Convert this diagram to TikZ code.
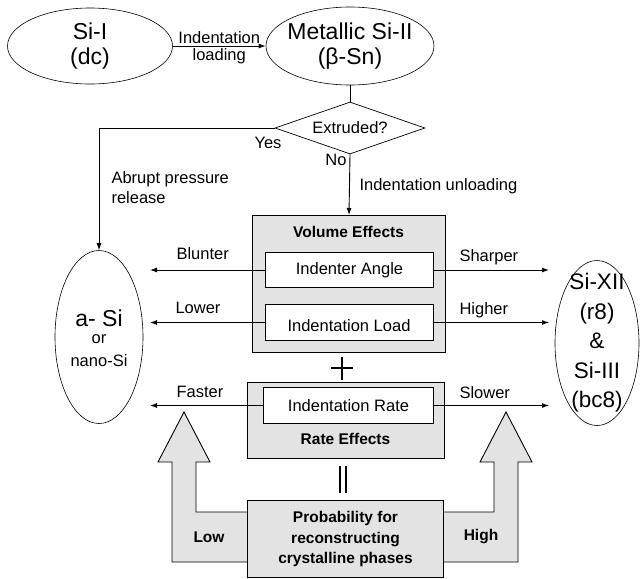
\documentclass[tikz,border=0pt]{standalone}
\usepackage{fontspec}
\setmainfont{Liberation Sans}
\usetikzlibrary{shapes.geometric,arrows.meta}
\begin{document}
\begin{tikzpicture}[x=1pt,y=-1pt,
  ell/.style={ellipse,draw,line width=0.6pt,inner sep=0pt},
  big/.style={font=\fontsize{23}{26}\selectfont,inner sep=0pt},
  mid/.style={font=\fontsize{16.5}{20}\selectfont},
  bmid/.style={font=\bfseries\fontsize{15.5}{20.5}\selectfont},
  outerbox/.style={draw,line width=1pt,fill=black!11,inner sep=0pt,anchor=north west},
  innerbox/.style={draw,line width=1pt,fill=white,inner sep=0pt,anchor=north west,font=\fontsize{16.5}{20}\selectfont},
  bigarrow/.style={draw,line width=0.9pt,fill=black!11},
  arr/.style={line width=0.9pt,-{Latex[length=7pt,width=5pt]}},
  ln/.style={line width=0.7pt}]
\useasboundingbox (0,0) rectangle (641,579);

% top ellipses
\node[ell,minimum width=165,minimum height=76] (si1) at (90,46) {};
\node[big,align=center,font=\fontsize{23}{25}\selectfont] (si1t) at (si1.center) {Si-I\\(dc)};
\node[ell,minimum width=168,minimum height=78] (si2) at (350,46) {};
\node[big,align=center,font=\fontsize{23}{25}\selectfont] (si2t) at (si2.center) {Metallic Si-II\\(β-Sn)};
\draw[arr] (si1.east) -- (si2.west)
  node[midway,above,mid,inner sep=2pt] (lab1) {Indentation}
  node[midway,below,mid,inner sep=2pt] (lab2) {loading};

% decision
\node[diamond,draw,ln,aspect=2.9,minimum width=150,minimum height=52,inner sep=0pt,mid] (dia) at (350,128) {Extruded?};
\draw[ln] (si2.south) -- (dia.north);

% side ellipses
\node[ell,minimum width=88,minimum height=173] (asi) at (99,337) {};
\node[font=\fontsize{23}{25}\selectfont] (asit) at (99,318) {a- Si};
\node[mid] (ort) at (99,339) {or};
\node[mid] (nanot) at (99,361) {nano-Si};
\node[ell,minimum width=84,minimum height=165] (sixii) at (597,343) {};
\node[big,align=center,font=\fontsize{22.5}{29.5}\selectfont] (sixiit) at (sixii.center) {Si-XII\\(r8)\\\&\\Si-III\\(bc8)};

% yes branch
\draw[arr] (dia.west) -| (asi.north);
\node[mid] (yes) at (268,143) {Yes};
\node[mid,align=left,anchor=west] (abrupt) at (108,188) {Abrupt pressure\\release};

% volume effects box
\node[outerbox,minimum width=193,minimum height=137] (vol) at (252,215) {};
\node[bmid] (volt) at (348.5,232) {Volume Effects};
\node[innerbox,minimum width=168,minimum height=35] (ia) at (265,252) {Indenter Angle};
\node[innerbox,minimum width=168,minimum height=36] (il) at (265,304) {};
\node[mid] (ilt) at (349,326) {Indentation Load};

% no branch
\draw[arr] (dia.south) -- (vol.north);
\node[mid] (no) at (336,160) {No};
\node[mid,anchor=west] (unl) at (356,186) {Indentation unloading};

% rate effects box
\node[outerbox,minimum width=197,minimum height=76] (rate) at (247,382) {};
\node[innerbox,minimum width=170,minimum height=36] (ir) at (263,387) {Indentation Rate};
\node[bmid] (ratet) at (345.5,439) {Rate Effects};

% plus and equals
\draw[line width=1.6pt] (331,368) -- (353,368);
\draw[line width=1.6pt] (342,357) -- (342,380);
\draw[line width=1.5pt] (340,466) -- (340,493);
\draw[line width=1.5pt] (346,466) -- (346,493);

% big hollow arrows
\draw[bigarrow] (247,512) -- (196,512) -- (196,462) -- (210,462) -- (184,412)
  -- (158,462) -- (172,462) -- (172,562) -- (247,562);
\draw[bigarrow] (443,512) -- (494,512) -- (494,462) -- (480,462) -- (506,412)
  -- (532,462) -- (518,462) -- (518,562) -- (443,562);
\node[bmid] (low) at (209,537) {Low};
\node[bmid] (high) at (481,537) {High};

% probability box
\node[outerbox,minimum width=196,minimum height=77] (prob) at (247,500) {};
\node[bmid,align=center] (probt) at (prob.center) {Probability for\\reconstructing\\crystalline phases};

% left and right arrows
\path (ia.west) ++(-115,0) coordinate (la1);
\path (il.west) ++(-115,0) coordinate (la2);
\path (ir.west) ++(-113,0) coordinate (la3);
\path (ia.east) ++(115,0) coordinate (ra1);
\path (il.east) ++(115,0) coordinate (ra2);
\path (ir.east) ++(115,0) coordinate (ra3);
\draw[arr] (ia.west) -- (la1);
\draw[arr] (il.west) -- (la2);
\draw[arr] (ir.west) -- (la3);
\draw[arr] (ia.east) -- (ra1);
\draw[arr] (il.east) -- (ra2);
\draw[arr] (ir.east) -- (ra3);
\node[mid,anchor=base west] (blunter) at (173,259) {Blunter};
\node[mid,anchor=base west] (lower) at (172,313) {Lower};
\node[mid,anchor=base west] (faster) at (173,397) {Faster};
\node[mid,anchor=base west] (sharper) at (456,261) {Sharper};
\node[mid,anchor=base west] (higher) at (456,314) {Higher};
\node[mid,anchor=base west] (slower) at (456,398) {Slower};
\end{tikzpicture}
\end{document}
